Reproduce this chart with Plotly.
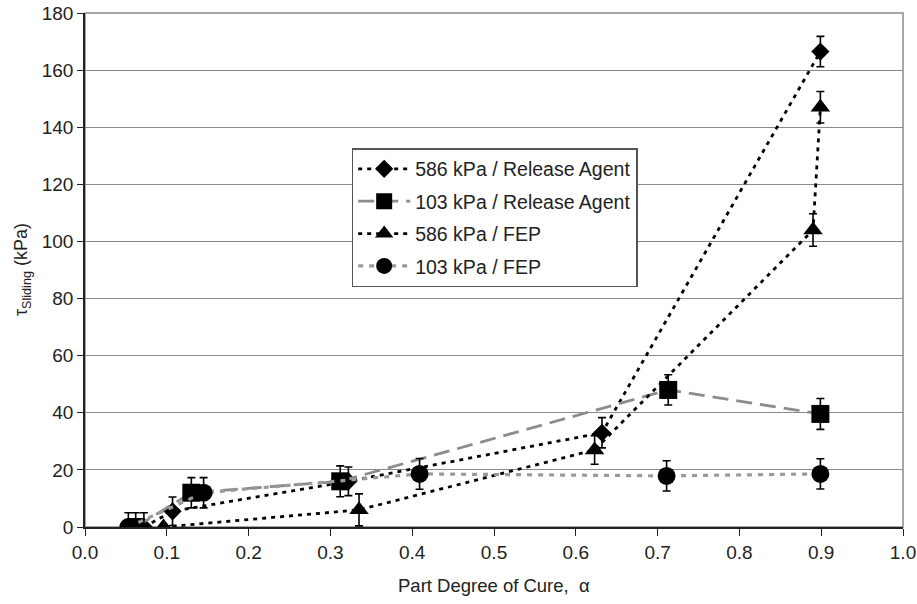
import plotly.graph_objects as go

# Data
names = ["586 kPa / Release Agent", "103 kPa / Release Agent", "586 kPa / FEP", "103 kPa / FEP"]

x_586_ra = [0.072, 0.107, 0.322, 0.632, 0.899]
y_586_ra = [0.0, 5.5, 16.0, 33.0, 166.5]
e_586_ra = [5.0, 5.0, 5.0, 5.3, 5.3]

x_103_ra = [0.062, 0.130, 0.312, 0.713, 0.899]
y_103_ra = [0.0, 12.0, 16.0, 48.0, 39.6]
e_103_ra = [5.0, 5.3, 5.4, 5.3, 5.4]

x_586_fep = [0.096, 0.335, 0.623, 0.890, 0.899]
y_586_fep = [0.0, 6.0, 27.0, 104.0, 147.0]
e_586_fep = [0.0, 5.6, 5.0, 5.7, 5.5]

x_103_fep = [0.053, 0.145, 0.409, 0.711, 0.899]
y_103_fep = [0.0, 12.0, 18.6, 17.9, 18.6]
e_103_fep = [5.0, 5.3, 5.4, 5.3, 5.3]

y_ticks = [0, 20, 40, 60, 80, 100, 120, 140, 160, 180]
x_ticks = [0.0, 0.1, 0.2, 0.3, 0.4, 0.5, 0.6, 0.7, 0.8, 0.9, 1.0]

series = [
    (names[0], x_586_ra, y_586_ra, e_586_ra, "diamond", 14, "black", "4px,5px", 2.8),
    (names[1], x_103_ra, y_103_ra, e_103_ra, "square", 18, "#8c8c8c", "16px,8px", 2.8),
    (names[2], x_586_fep, y_586_fep, e_586_fep, "triangle-up", 17, "black", "4px,5px", 2.8),
    (names[3], x_103_fep, y_103_fep, e_103_fep, "circle", 18, "#9a9a9a", "5px,6px", 3.2),
]

FONT = "Liberation Sans, Arial, sans-serif"

fig = go.Figure()
for i, (name, xs, ys, es, sym, size, lcol, dash, lw) in enumerate(series):
    fig.add_trace(go.Scatter(
        x=xs, y=ys, name=name, mode="lines+markers", legendgroup=f"g{i}",
        line=dict(color=lcol, dash=dash, width=lw),
        marker=dict(symbol=sym, size=size, color="black"),
        error_y=dict(type="data", array=es, visible=True, color="black", thickness=1.6, width=4),
    ))

fig.add_shape(type="rect", xref="paper", yref="paper", x0=0, y0=0, x1=1, y1=1,
              line=dict(color="#8a8a8a", width=1.5), layer="below")

fig.add_annotation(text="τ<sub>Sliding</sub> (kPa)", xref="paper", yref="paper",
                   x=-0.077, y=0.5, textangle=-90, showarrow=False,
                   xanchor="center", yanchor="middle", font=dict(size=18, family=FONT, color="#222"))
fig.add_annotation(text="Part Degree of Cure,  α", xref="paper", yref="paper",
                   x=0.5, y=-0.114, showarrow=False,
                   xanchor="center", yanchor="middle", font=dict(size=18.5, family=FONT, color="#222"))

fig.update_layout(
    width=917, height=604,
    margin=dict(l=85, r=14, t=13, b=77, autoexpand=False),
    paper_bgcolor="white", plot_bgcolor="white",
    font=dict(family=FONT, size=19, color="#222"),
    showlegend=True,
    legend=dict(
        x=0.326, y=0.737, xanchor="left", yanchor="top",
        bgcolor="white", bordercolor="#555", borderwidth=1.5,
        font=dict(size=19.5, color="#222"),
        itemwidth=52, tracegroupgap=4,
    ),
    xaxis=dict(
        range=[0, 1.0], tickvals=x_ticks, tickformat=".1f", automargin=False,
        showgrid=False, zeroline=False,
        showline=True, linecolor="#222", linewidth=1.5,
        ticks="outside", ticklen=7, tickcolor="#222", tickwidth=1.2,
        tickfont=dict(size=19),
    ),
    yaxis=dict(
        range=[0, 180], tickvals=y_ticks, automargin=False,
        showgrid=True, gridcolor="#8a8a8a", gridwidth=1.2,
        zeroline=False,
        showline=True, linecolor="#222", linewidth=1.5,
        ticks="outside", ticklen=6, tickcolor="#222", tickwidth=1.2,
        tickfont=dict(size=19),
    ),
)

fig.write_html("out.html")
